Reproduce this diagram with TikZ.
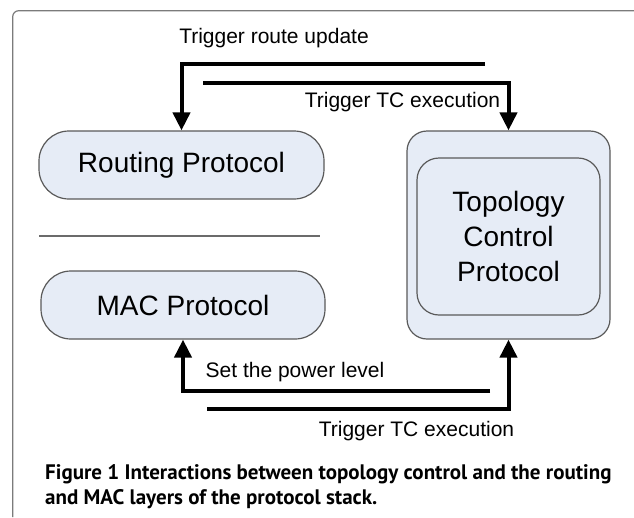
\documentclass[tikz,border=0pt]{standalone}
\usepackage{fontspec}
\setmainfont{Liberation Sans}
\newfontfamily\capfont{PT Sans}
\usetikzlibrary{arrows.meta}
\definecolor{boxfill}{HTML}{E6ECF6}
\definecolor{boxline}{HTML}{5A5A5A}

\begin{document}
\begin{tikzpicture}[x=1pt,y=-1pt,
  proto/.style={draw=boxline,fill=boxfill,line width=1.2pt,inner sep=0pt,
    font=\fontsize{28}{35}\selectfont,align=center},
  signal/.style={line width=4pt,-{Triangle[width=17pt,length=18pt]}},
  msg/.style={inner sep=0pt,font=\fontsize{21}{25}\selectfont}]
\useasboundingbox (0,0) rectangle (634,517);
\fill[white] (0,0) rectangle (634,517);
\draw[boxline!80,line width=1.2pt,rounded corners=6] (12.7,517) -- (12.7,10.7) -- (634,10.7);

\node[proto,minimum width=285,minimum height=68,rounded corners=30] (routing) at (181.5,165) {Routing Protocol};
\node[proto,minimum width=284,minimum height=68,rounded corners=30] (mac) at (183,305) {MAC Protocol};
\draw[boxline!90,line width=1.5pt] (39,236) -- (320,236);
\node[proto,minimum width=203,minimum height=208,rounded corners=20] (tcout) at (508.5,235) {};
\node[proto,minimum width=183,minimum height=157,rounded corners=22] (tc) at (508.5,236.5) {Topology\\Control\\Protocol};

\coordinate (ruEnd) at (485,64);
\coordinate (tcTop) at (203,83);
\coordinate (pwEnd) at (490,391);
\coordinate (tcBot) at (207,409);
\draw[signal] (ruEnd) -| (routing.north);
\draw[signal] (tcTop) -| (tcout.north);
\draw[signal] (pwEnd) -| (mac.south);
\draw[signal] (tcBot) -| (tcout.south);

\node[msg] (routeLbl) at (274,37.7) {Trigger route update};
\node[msg] (tcLblTop) at (402.5,102) {Trigger TC execution};
\node[msg] (powerLbl) at (295,372) {Set the power level};
\node[msg] (tcLblBot) at (416.5,431) {Trigger TC execution};

\node[anchor=north west,inner sep=0pt,align=left,
  font=\capfont\bfseries\fontsize{21}{25}\selectfont] (caption) at (45,464)
  {Figure 1 Interactions between topology control and the routing\\and MAC layers of the protocol stack.};
\end{tikzpicture}
\end{document}
